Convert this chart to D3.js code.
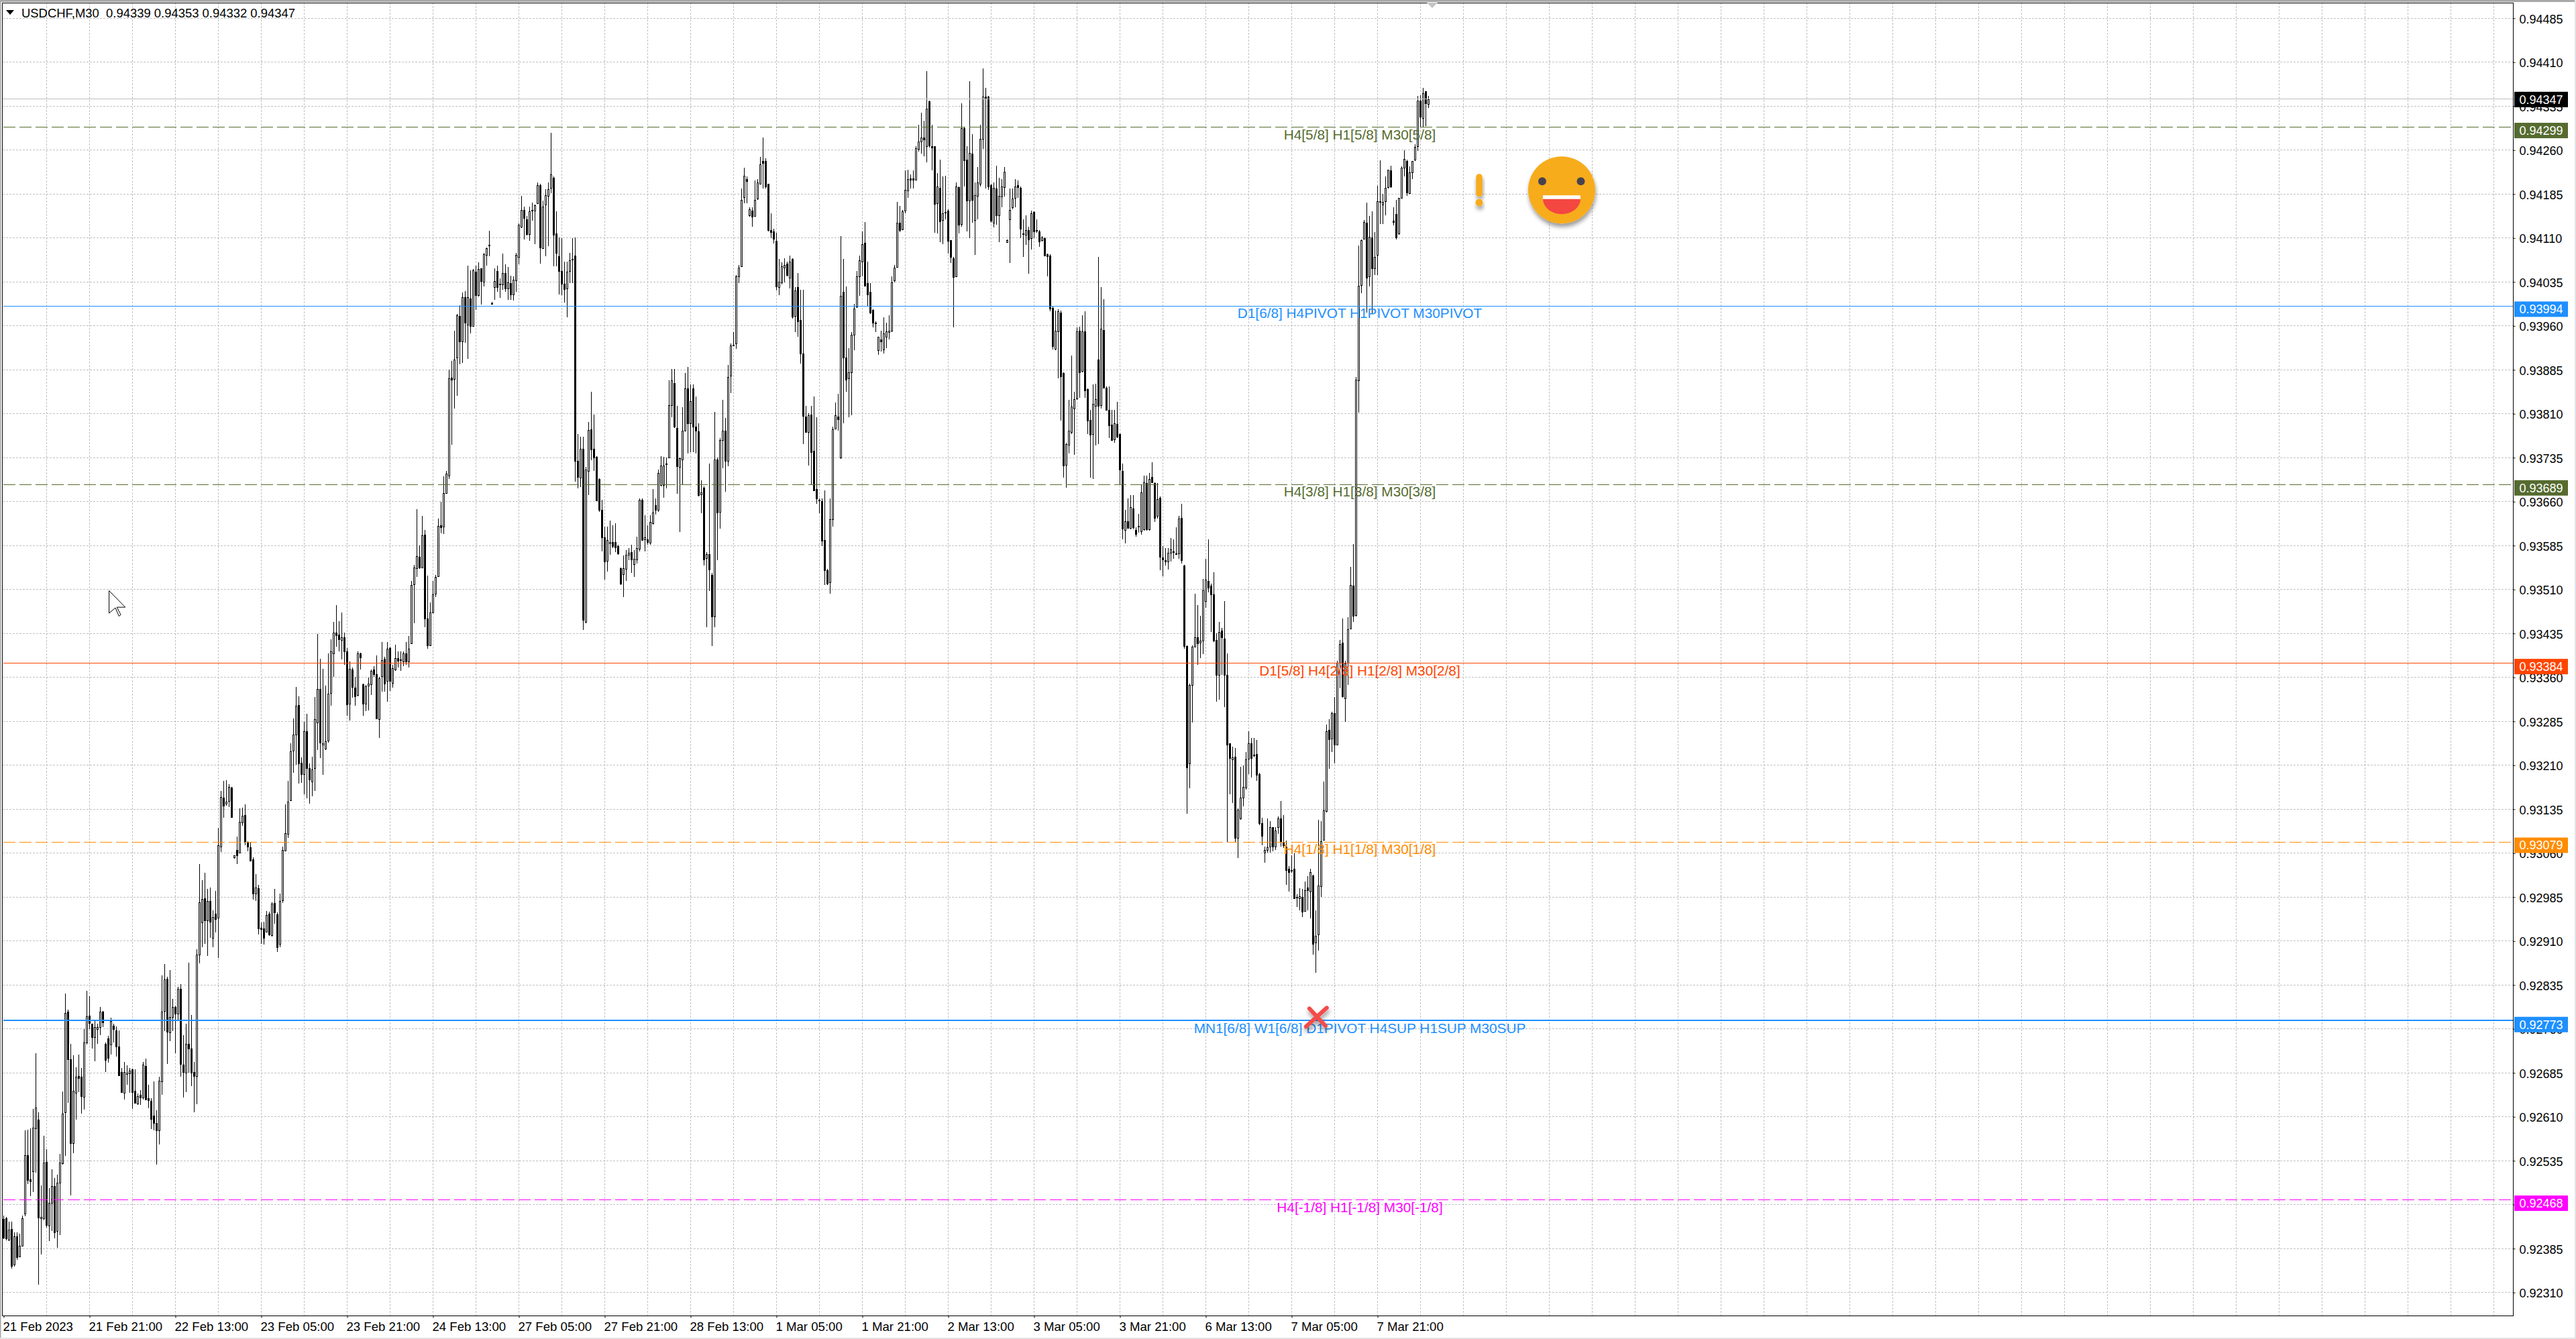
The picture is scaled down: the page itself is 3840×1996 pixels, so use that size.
<!DOCTYPE html>
<html>
<head>
<meta charset="utf-8">
<script src="https://cdn.jsdelivr.net/npm/d3@7"></script>
<style>
  html, body { margin: 0; padding: 0; background: #fff; }
  svg { display: block; }
  text { font-family: "Liberation Sans", Arial, sans-serif; }
</style>
</head>
<body>
<div id="chart"></div>
<script>
// prices are in points: 0.92436 is written 92436
const opens = [
92436,92437,92400,92418,92358,92406,92372,92390,92444,92544,
92503,92517,92590,92605,92437,92437,92533,92424,92463,92492,
92415,92498,92531,92617,92789,92708,92565,92652,92680,92678,
92644,92736,92783,92769,92746,92760,92763,92789,92735,92744,
92733,92766,92758,92730,92686,92651,92683,92684,92691,92654,
92632,92647,92643,92697,92642,92637,92612,92600,92587,92670,
92790,92846,92754,92780,92797,92786,92828,92699,92686,92735,
92726,92687,92680,92887,92942,92983,92945,92978,92915,92957,
92949,93071,93155,93144,93149,93172,93052,93066,93061,93112,
93125,93079,93070,93049,92991,93000,92933,92932,92926,92957,
92920,92975,92956,92905,92979,93064,93093,93150,93236,93263,
93313,93214,93195,93268,93205,93182,93205,93283,93340,93246,
93238,93252,93333,93402,93437,93433,93424,93429,93405,93315,
93374,93343,93330,93401,93348,93315,93345,93348,93373,93365,
93289,93361,93392,93354,93410,93351,93374,93393,93391,93387,
93401,93387,93418,93519,93546,93566,93548,93604,93461,93415,
93471,93503,93533,93620,93618,93675,93704,93872,93870,93906,
93977,93933,94009,93962,94007,93960,94053,94012,94058,94035,
94082,94098,93999,94027,94054,94032,94031,94050,94024,94033,
94014,94037,94078,94129,94158,94142,94117,94157,94157,94169,
94200,94093,94167,94182,94195,94213,94118,94079,94054,94032,
94023,94054,94073,94080,93730,93701,93750,93455,93712,93784,
93750,93737,93699,93646,93599,93559,93589,93591,93591,93584,
93546,93536,93545,93569,93574,93553,93561,93579,93663,93595,
93596,93590,93623,93654,93646,93689,93689,93724,93736,93825,
93863,93786,93719,93732,93781,93853,93794,93853,93788,93780,
93672,93684,93563,93571,93535,93464,93732,93643,93765,93781,
93730,93875,93927,93929,94044,94062,94179,94211,94149,94157,
94148,94177,94203,94241,94242,94202,94124,94121,94105,94026,
94034,94059,94066,94042,94074,93978,94026,93970,93913,93805,
93778,93809,93747,93681,93663,93661,93595,93543,93522,93630,
93784,93805,93735,94018,93906,93871,93881,93945,93993,94044,
94070,94102,94033,94018,93987,93966,93919,93937,93919,93942,
93950,93952,94037,94060,94136,94125,94156,94192,94212,94212,
94209,94262,94275,94282,94267,94343,94267,94267,94169,94196,
94141,94154,94157,94106,94075,94044,94197,94133,94297,94244,
94174,94254,94141,94182,94202,94279,94351,94351,94200,94136,
94194,94149,94181,94197,94103,94142,94162,94179,94200,94196,
94118,94115,94124,94110,94154,94123,94121,94106,94110,94082,
94080,93991,93921,93951,93983,93880,93723,93757,93778,93819,
93836,93952,93883,93951,93852,93800,93776,93824,93903,93824,
93953,93855,93817,93792,93767,93793,93775,93712,93612,93627,
93615,93648,93612,93618,93610,93613,93692,93613,93702,93692,
93635,93667,93565,93560,93558,93572,93575,93572,93572,93632,
93551,93414,93213,93348,93413,93429,93419,93423,93490,93525,
93517,93502,93424,93365,93440,93426,93364,93247,93221,93225,
93086,93120,93155,93172,93221,93248,93228,93229,93195,93111,
93060,93065,93071,93104,93071,93104,93119,93078,93071,93033,
93031,93033,92985,92982,92985,92962,93001,92995,93022,92907,
92921,93003,93083,93132,93271,93255,93299,93245,93385,93419,
93325,93385,93444,93517,93466,93866,94029,94108,94136,94044,
94111,94058,94081,94173,94167,94173,94196,94225,94139,94151,
94117,94178,94230,94241,94187,94221,94243,94267,94344,94315,94361,94339];

const highs = [
92441,92439,92431,92431,92413,92413,92411,92441,92587,92588,
92590,92624,92719,92618,92493,92578,92555,92488,92521,92506,
92511,92547,92653,92820,92793,92735,92715,92695,92716,92693,
92760,92825,92816,92769,92773,92769,92797,92791,92737,92748,
92779,92769,92764,92757,92693,92704,92698,92693,92692,92691,
92650,92656,92704,92709,92665,92642,92671,92621,92679,92851,
92871,92849,92860,92811,92800,92832,92836,92750,92769,92873,
92784,92704,92896,93042,93014,93027,92999,93001,92963,92996,
93103,93166,93183,93185,93178,93173,93056,93088,93137,93138,
93143,93080,93078,93053,93024,93006,92942,92943,92961,92960,
92976,92999,92959,92991,93071,93143,93184,93248,93290,93344,
93328,93224,93284,93298,93213,93225,93326,93434,93392,93375,
93346,93401,93425,93455,93484,93456,93471,93436,93410,93387,
93377,93361,93405,93402,93349,93347,93360,93374,93379,93397,
93361,93421,93395,93421,93413,93382,93416,93405,93405,93405,
93420,93431,93525,93552,93647,93585,93636,93612,93534,93488,
93525,93535,93631,93660,93703,93712,93885,93900,93952,93980,
93995,94017,94019,94063,94055,94057,94063,94069,94058,94085,
94094,94122,94001,94058,94063,94041,94083,94065,94061,94046,
94044,94085,94135,94182,94164,94148,94164,94171,94167,94205,
94203,94174,94193,94205,94289,94215,94156,94111,94110,94070,
94070,94085,94110,94111,93775,93771,93771,93719,93796,93847,
93809,93738,93700,93663,93617,93617,93628,93620,93623,93587,
93548,93568,93577,93581,93587,93577,93600,93665,93665,93637,
93620,93637,93681,93666,93715,93738,93737,93735,93867,93886,
93886,93824,93735,93821,93880,93890,93860,93860,93840,93794,
93696,93686,93574,93725,93538,93813,93735,93768,93834,93803,
93893,93930,93949,94047,94064,94195,94230,94215,94162,94162,
94208,94210,94248,94282,94246,94203,94152,94126,94119,94074,
94069,94075,94070,94080,94075,94026,94050,94022,94022,93824,
93811,93824,93840,93804,93666,93666,93679,93545,93665,93788,
93829,93844,94113,94074,94027,93922,93949,93998,94054,94080,
94121,94137,94070,94033,93988,93968,93942,93952,93975,93965,
93978,94044,94064,94172,94165,94158,94225,94226,94218,94225,
94267,94303,94324,94310,94395,94344,94303,94267,94221,94244,
94215,94216,94159,94106,94078,94205,94198,94340,94300,94267,
94378,94287,94205,94231,94303,94400,94366,94353,94202,94205,
94234,94213,94211,94231,94107,94195,94195,94211,94208,94198,
94142,94149,94129,94157,94156,94142,94123,94113,94111,94083,
94082,93993,93986,93988,93986,93881,93761,93834,93909,93847,
93957,93959,93978,93985,93853,93817,93860,93861,94078,94026,
94006,93857,93857,93817,93817,93830,93776,93725,93646,93666,
93671,93671,93616,93639,93689,93704,93704,93709,93727,93693,
93692,93669,93584,93581,93581,93598,93596,93616,93636,93656,
93552,93415,93350,93415,93503,93483,93465,93528,93563,93596,
93520,93540,93435,93455,93444,93490,93401,93248,93242,93239,
93136,93207,93210,93233,93268,93257,93257,93253,93197,93121,
93071,93119,93115,93104,93104,93123,93149,93125,93081,93038,
93056,93060,92990,93000,92999,93012,93021,93033,93023,92963,
93117,93115,93182,93280,93289,93301,93326,93388,93424,93461,
93388,93463,93549,93588,93873,94097,94108,94141,94170,94148,
94156,94120,94199,94243,94185,94215,94227,94234,94163,94175,
94179,94232,94260,94244,94232,94242,94270,94352,94354,94366,94361,94353];

const lows = [
92401,92399,92398,92351,92354,92366,92371,92389,92440,92495,
92475,92482,92515,92323,92375,92434,92421,92398,92415,92402,
92387,92408,92528,92543,92634,92476,92548,92605,92652,92616,
92622,92734,92760,92726,92705,92735,92750,92763,92687,92703,
92716,92737,92713,92680,92651,92639,92665,92651,92623,92633,
92630,92630,92639,92639,92625,92589,92587,92528,92563,92648,
92756,92700,92739,92756,92719,92773,92679,92643,92652,92685,
92662,92618,92632,92872,92899,92905,92885,92915,92899,92925,
92881,93062,93121,93141,93139,93121,93051,93042,93060,93107,
93073,93063,93046,92981,92978,92921,92905,92904,92925,92919,
92918,92940,92892,92900,92975,93063,93086,93149,93197,93211,
93179,93180,93160,93154,93144,93157,93166,93236,93222,93194,
93236,93249,93312,93361,93412,93404,93391,93382,93295,93287,
93325,93312,93328,93374,93294,93303,93304,93330,93361,93290,
93257,93336,93336,93318,93337,93343,93371,93377,93371,93379,
93381,93377,93417,93453,93531,93545,93548,93446,93409,93414,
93471,93497,93531,93606,93605,93673,93699,93757,93819,93841,
93895,93897,93931,93904,93947,93960,93987,94010,93996,94027,
94063,94079,93996,94004,94018,94008,94022,94018,94005,94004,
94003,94018,94065,94127,94108,94114,94105,94140,94099,94169,
94066,94093,94079,94096,94187,94062,94062,94014,94013,94000,
93975,94033,94033,93694,93683,93685,93441,93453,93671,93731,
93712,93661,93643,93575,93527,93541,93569,93581,93574,93569,
93518,93497,93525,93560,93538,93531,93554,93575,93593,93575,
93587,93587,93621,93638,93643,93686,93667,93683,93735,93804,
93786,93673,93608,93689,93781,93742,93745,93745,93742,93669,
93640,93551,93446,93507,93414,93446,93560,93614,93717,93677,
93721,93845,93926,93921,94033,94062,94169,94169,94146,94129,
94147,94175,94203,94195,94195,94121,94110,94101,94021,94013,
94031,94034,94044,94024,93972,93949,93942,93896,93758,93778,
93722,93689,93678,93656,93640,93584,93518,93518,93503,93617,
93784,93781,93733,93794,93847,93804,93807,93919,93991,94011,
94044,94028,93993,93980,93957,93949,93911,93916,93913,93922,
93937,93950,94034,94060,94120,94123,94152,94179,94195,94195,
94208,94257,94254,94249,94239,94264,94225,94119,94118,94103,
94100,94142,94083,94067,93957,94043,94118,94129,94198,94121,
94110,94136,94081,94142,94198,94262,94195,94192,94136,94128,
94133,94103,94162,94181,94102,94067,94159,94162,94179,94110,
94078,94098,94049,94090,94110,94119,94095,94104,94079,94045,
93985,93920,93919,93870,93798,93701,93684,93742,93775,93740,
93834,93837,93881,93837,93775,93701,93699,93756,93758,93819,
93853,93815,93768,93765,93760,93769,93689,93596,93589,93614,
93613,93613,93600,93607,93604,93611,93610,93611,93692,93625,
93631,93543,93533,93551,93544,93558,93563,93569,93563,93555,
93409,93127,93171,93283,93412,93381,93393,93400,93479,93505,
93438,93420,93318,93322,93364,93309,93079,93160,93146,93079,
93052,93117,93140,93169,93195,93189,93224,93184,93108,93073,
93044,93061,93061,93063,93065,93093,93071,93069,93006,92994,
93026,92982,92968,92962,92951,92961,92962,92949,92887,92856,
92894,92985,93081,93130,93204,93233,93213,93244,93342,93325,
93284,93347,93443,93455,93464,93812,94016,94107,93983,94027,
93980,94047,94047,94134,94134,94149,94194,94196,94132,94107,
94116,94177,94215,94182,94185,94210,94242,94259,94299,94299,94301,94332];

const closes = [
92404,92403,92417,92355,92406,92371,92390,92437,92544,92502,
92500,92591,92626,92438,92439,92532,92425,92463,92492,92413,
92498,92532,92616,92787,92708,92565,92654,92679,92676,92645,
92737,92781,92770,92746,92763,92763,92789,92771,92707,92711,
92773,92760,92730,92681,92652,92686,92685,92689,92652,92633,
92645,92642,92699,92640,92638,92606,92599,92587,92672,92789,
92844,92756,92780,92797,92786,92828,92700,92686,92735,92727,
92685,92680,92887,92976,92982,92945,92978,92942,92951,92948,
93073,93156,93141,93148,93173,93122,93056,93057,93114,93124,
93079,93071,93047,92991,93001,92931,92931,92916,92955,92921,
92974,92959,92900,92978,93065,93094,93148,93234,93263,93312,
93213,93194,93268,93205,93185,93203,93289,93340,93248,93248,
93251,93332,93404,93437,93432,93425,93429,93405,93315,93375,
93344,93328,93401,93394,93315,93345,93349,93371,93365,93290,
93359,93389,93350,93409,93354,93376,93393,93388,93390,93401,
93387,93409,93518,93548,93567,93548,93603,93461,93415,93471,
93502,93532,93619,93617,93675,93708,93870,93869,93903,93978,
93934,94009,93965,94009,93960,94055,94013,94057,94036,94082,
94093,94097,93998,94037,94026,94031,94050,94024,94034,94013,
94039,94081,94133,94158,94144,94117,94156,94158,94166,94200,
94093,94164,94183,94193,94218,94116,94085,94054,94032,94023,
94052,94072,94074,93730,93702,93750,93458,93715,93782,93750,
93735,93662,93646,93599,93558,93594,93591,93584,93582,93571,
93520,93546,93569,93573,93561,93562,93581,93663,93594,93599,
93591,93625,93641,93646,93709,93722,93722,93725,93825,93867,
93788,93721,93734,93781,93853,93794,93832,93788,93781,93671,
93676,93561,93570,93545,93464,93732,93641,93765,93781,93729,
93873,93927,93928,94044,94059,94175,94216,94208,94159,94147,
94175,94205,94236,94238,94198,94123,94121,94108,94027,94035,
94062,94064,94046,94070,93976,94021,93968,93913,93806,93779,
93807,93745,93679,93665,93662,93593,93543,93520,93630,93784,
93807,93800,94011,93906,93868,93881,93945,93990,94044,94072,
94100,94029,94014,93982,93965,93965,93942,93934,93947,93951,
93952,94034,94059,94136,94123,94156,94192,94211,94210,94210,
94263,94275,94282,94278,94331,94267,94265,94169,94198,94139,
94152,94153,94106,94077,94043,94198,94133,94297,94242,94174,
94255,94175,94183,94205,94279,94351,94349,94198,94139,94196,
94148,94182,94198,94223,94106,94158,94177,94198,94197,94126,
94117,94123,94108,94152,94121,94122,94104,94111,94080,94079,
93990,93926,93952,93985,93874,93722,93758,93781,93822,93835,
93951,93881,93951,93850,93798,93775,93827,93835,93824,93955,
93855,93817,93791,93766,93794,93771,93714,93614,93627,93616,
93651,93616,93605,93617,93676,93693,93613,93699,93693,93633,
93664,93566,93562,93558,93573,93578,93574,93571,93631,93560,
93414,93207,93347,93413,93429,93419,93423,93509,93527,93514,
93502,93423,93365,93438,93429,93364,93245,93222,93224,93087,
93134,93155,93173,93220,93247,93223,93227,93193,93111,93089,
93065,93070,93104,93071,93099,93119,93079,93073,93031,93027,
93030,92983,92984,92986,92960,92997,92996,93028,92905,92919,
93005,93080,93133,93268,93255,93299,93245,93385,93417,93327,
93384,93442,93518,93466,93868,94028,94106,94137,94042,94112,
94058,94078,94173,94172,94172,94196,94226,94198,94137,94111,
94178,94230,94245,94187,94222,94241,94265,94345,94317,94357,94340,94347];

const priceTicks = [94485,94410,94335,94260,94185,94110,94035,93960,93885,93810,93735,93660,93585,93510,93435,93360,93285,93210,93135,93060,92985,92910,92835,92760,92685,92610,92535,92460,92385,92310];

const timeLabels = ["21 Feb 2023","21 Feb 21:00","22 Feb 13:00","23 Feb 05:00","23 Feb 21:00","24 Feb 13:00","27 Feb 05:00","27 Feb 21:00","28 Feb 13:00","1 Mar 05:00","1 Mar 21:00","2 Mar 13:00","3 Mar 05:00","3 Mar 21:00","6 Mar 13:00","7 Mar 05:00","7 Mar 21:00"];

const levelPrices = [94299,93994,93689,93384,93079,92773,92468];
const levelNames = [
  "H4[5/8] H1[5/8] M30[5/8]",
  "D1[6/8] H4PIVOT H1PIVOT M30PIVOT",
  "H4[3/8] H1[3/8] M30[3/8]",
  "D1[5/8] H4[2/8] H1[2/8] M30[2/8]",
  "H4[1/8] H1[1/8] M30[1/8]",
  "MN1[6/8] W1[6/8] D1PIVOT H4SUP H1SUP M30SUP",
  "H4[-1/8] H1[-1/8] M30[-1/8]"
];

const header = "USDCHF,M30  0.94339 0.94353 0.94332 0.94347";
const lastPrice = 94347;

// annotations: bar number and price they sit on
const crossAt = [489.2, 92780];
const smileAt = [580.75, 94192];
const warnAt = [550, 94192];
const cursorAt = [39.4, 93508];

const W = 3840, H = 1996;
const plotLeft = 4, plotRight = 3746, plotTop = 4, plotBottom = 1961;
const fmt = v => (v / 100000).toFixed(5);

const svg = d3.select("#chart").append("svg").attr("width", W).attr("height", H);

const defs = svg.append("defs");
const shadow = defs.append("filter").attr("id", "shadow")
  .attr("x", "-30%").attr("y", "-30%").attr("width", "160%").attr("height", "170%");
shadow.append("feDropShadow").attr("dx", 1).attr("dy", 5).attr("stdDeviation", 3)
  .attr("flood-color", "#000").attr("flood-opacity", 0.4);

// window edges
svg.append("rect").attr("width", W).attr("height", H).attr("fill", "#fff");
svg.append("rect").attr("width", W).attr("height", 3).attr("fill", "#a8a8a8");
svg.append("rect").attr("width", 1.5).attr("height", H).attr("fill", "#a8a8a8");
svg.append("rect").attr("y", 1994).attr("width", W).attr("height", 2).attr("fill", "#e4e4e4");
svg.append("rect").attr("x", 3838).attr("width", 2).attr("height", H).attr("fill", "#e4e4e4");

const x = d3.scaleLinear().domain([0, 935]).range([5, 3745]);
const y = d3.scaleLinear().domain([92310, 94485]).range([1926.8, 27.3]);
const row = p => Math.floor(y(p)) + 0.5;

//grid
const grid = svg.append("g")
  .attr("stroke", "#c0c0c0").attr("stroke-width", 1).attr("stroke-dasharray", "3 2")
  .attr("shape-rendering", "crispEdges");
grid.selectAll("line.h").data(priceTicks).enter().append("line").attr("class", "h")
  .attr("x1", plotLeft).attr("x2", plotRight)
  .attr("y1", row).attr("y2", row);
grid.selectAll("line.v").data(d3.range(16, 935, 16)).enter().append("line").attr("class", "v")
  .attr("y1", plotTop).attr("y2", plotBottom)
  .attr("x1", d => x(d) + 0.5).attr("x2", d => x(d) + 0.5);

// candles
const bars = d3.range(opens.length);
const candles = svg.append("g").attr("shape-rendering", "crispEdges");
candles.selectAll("line").data(bars).enter().append("line")
  .attr("x1", i => x(i) + 0.5).attr("x2", i => x(i) + 0.5)
  .attr("y1", i => y(highs[i])).attr("y2", i => y(lows[i]))
  .attr("stroke", "#000").attr("stroke-width", 1);
candles.selectAll("rect").data(bars).enter().append("rect")
  .attr("x", i => x(i) - 0.5).attr("width", 2)
  .attr("y", i => Math.round(y(Math.max(opens[i], closes[i]))) + 0.5)
  .attr("height", i => Math.max(1, Math.round(Math.abs(y(opens[i]) - y(closes[i])))))
  .attr("fill", i => closes[i] >= opens[i] ? "#fff" : "#000")
  .attr("stroke", "#000").attr("stroke-width", 1);

// price line of the last quote
svg.append("line").attr("x1", plotLeft).attr("x2", plotRight)
  .attr("y1", row(lastPrice)).attr("y2", row(lastPrice))
  .attr("stroke", "#c0c0c0").attr("stroke-width", 1);

// frame and axes
svg.append("rect").attr("x", plotLeft - 0.5).attr("y", plotTop + 0.5)
  .attr("width", plotRight - plotLeft + 1).attr("height", plotBottom - plotTop)
  .attr("fill", "none").attr("stroke", "#000").attr("stroke-width", 1)
  .attr("shape-rendering", "crispEdges");

const yAxis = d3.axisRight(y).tickValues(priceTicks).tickFormat(fmt).tickSize(3).tickPadding(6);
const yG = svg.append("g").attr("transform", `translate(${plotRight + 0.5},0)`).call(yAxis);
yG.select(".domain").remove();
yG.selectAll("text").attr("font-size", 18).attr("fill", "#000").attr("dy", "0.38em");

const xAxis = d3.axisBottom(x)
  .tickValues(timeLabels.map((d, i) => i * 32))
  .tickFormat((d, i) => timeLabels[i]).tickSize(3).tickPadding(0);
const xG = svg.append("g").attr("transform", `translate(0.5,${plotBottom + 0.5})`).call(xAxis);
xG.select(".domain").remove();
xG.selectAll("text").attr("font-size", 18.6).attr("fill", "#000")
  .attr("text-anchor", "start").attr("x", -1.5).attr("y", 9);

// levels, with their tag on the price axis
const levelColors = ["#556B2F","#1E90FF","#556B2F","#FF4500","#FF8C00","#1E90FF","#FF00FF"];
const levelDashed = [true, false, true, false, true, false, true];
const levelWidths = [1, 1, 1, 1, 1, 2, 1];
const labelBar = 505.5;
const levelRow = (d, i) => levelWidths[i] === 2 ? Math.floor(y(d)) - 1 : row(d);

const levels = svg.append("g");
levels.selectAll("line").data(levelPrices).enter().append("line")
  .attr("x1", plotLeft + 1).attr("x2", (d, i) => levelDashed[i] ? plotRight - 3 : plotRight)
  .attr("y1", levelRow).attr("y2", levelRow)
  .attr("stroke", (d, i) => levelColors[i])
  .attr("stroke-width", (d, i) => levelWidths[i])
  .attr("stroke-dasharray", (d, i) => levelDashed[i] ? "18 6" : null)
  .attr("shape-rendering", "crispEdges");
levels.selectAll("text").data(levelPrices).enter().append("text")
  .attr("x", x(labelBar)).attr("y", d => y(d) + 18)
  .attr("text-anchor", "middle").attr("font-size", 20.8)
  .attr("fill", (d, i) => levelColors[i])
  .text((d, i) => levelNames[i]);

const tags = svg.append("g");
function tag(price, color, dy) {
  const cy = y(price) + dy;
  tags.append("rect").attr("x", plotRight + 2).attr("y", cy - 11.5).attr("width", 80).attr("height", 23).attr("fill", color);
  tags.append("text").attr("x", plotRight + 9.5).attr("y", cy).attr("dy", "0.36em")
    .attr("font-size", 18).attr("fill", "#fff").text(fmt(price));
}
levelPrices.forEach((d, i) => tag(d, levelColors[i], 4.8));
tag(lastPrice, "#000", 0.5);

// header
svg.append("path").attr("d", "M9,15H21L15,22Z").attr("fill", "#000");
svg.append("text").attr("x", 32).attr("y", 19).attr("dy", "0.36em")
  .attr("font-size", 18.45).attr("fill", "#000").attr("xml:space", "preserve").text(header);

// chart shift mark
svg.append("path").attr("transform", `translate(${x(532.5)},4)`).attr("d", "M-8,0H8L0,8Z").attr("fill", "#c4c4c4");

// red cross
const cross = svg.append("g")
  .attr("transform", `translate(${x(crossAt[0])},${y(crossAt[1])})`)
  .attr("filter", "url(#shadow)")
  .attr("stroke", "#F44B4B").attr("stroke-width", 6).attr("stroke-linecap", "round");
cross.append("line").attr("x1", -10).attr("y1", -13).attr("x2", 14).attr("y2", 13);
cross.append("line").attr("x1", 16).attr("y1", -14).attr("x2", -15).attr("y2", 14);

// warning mark
const warn = svg.append("g")
  .attr("transform", `translate(${x(warnAt[0])},${y(warnAt[1])})`)
  .attr("filter", "url(#shadow)").attr("fill", "#F7AC1C");
warn.append("rect").attr("x", -4.7).attr("y", -24).attr("width", 9.4).attr("height", 34).attr("rx", 4.7);
warn.append("circle").attr("cx", 0).attr("cy", 18.7).attr("r", 5.5);

// smiley
const smile = svg.append("g")
  .attr("transform", `translate(${x(smileAt[0])},${y(smileAt[1])})`);
smile.append("circle").attr("r", 50).attr("fill", "#F7AC1C").attr("filter", "url(#shadow)");
smile.selectAll("ellipse").data([-29, 28.5]).enter().append("ellipse")
  .attr("cx", d => d).attr("cy", -13).attr("rx", 6).attr("ry", 6).attr("fill", "#47434F");
smile.append("path").attr("d", "M-28,13H28A28,23 0 0 1 -28,13Z").attr("fill", "#F44741");
smile.append("rect").attr("x", -28).attr("y", 8).attr("width", 56).attr("height", 5.5).attr("fill", "#fff");

// mouse pointer left in the screenshot
svg.append("path")
  .attr("transform", `translate(${x(cursorAt[0])},${y(cursorAt[1])})`)
  .attr("d", "M0,0V33.5L9.4,25.5L14.7,38L17.4,35.7L11.6,24.6H24.1Z")
  .attr("fill", "#fff").attr("stroke", "#000").attr("stroke-width", 1);
</script>
</body>
</html>
